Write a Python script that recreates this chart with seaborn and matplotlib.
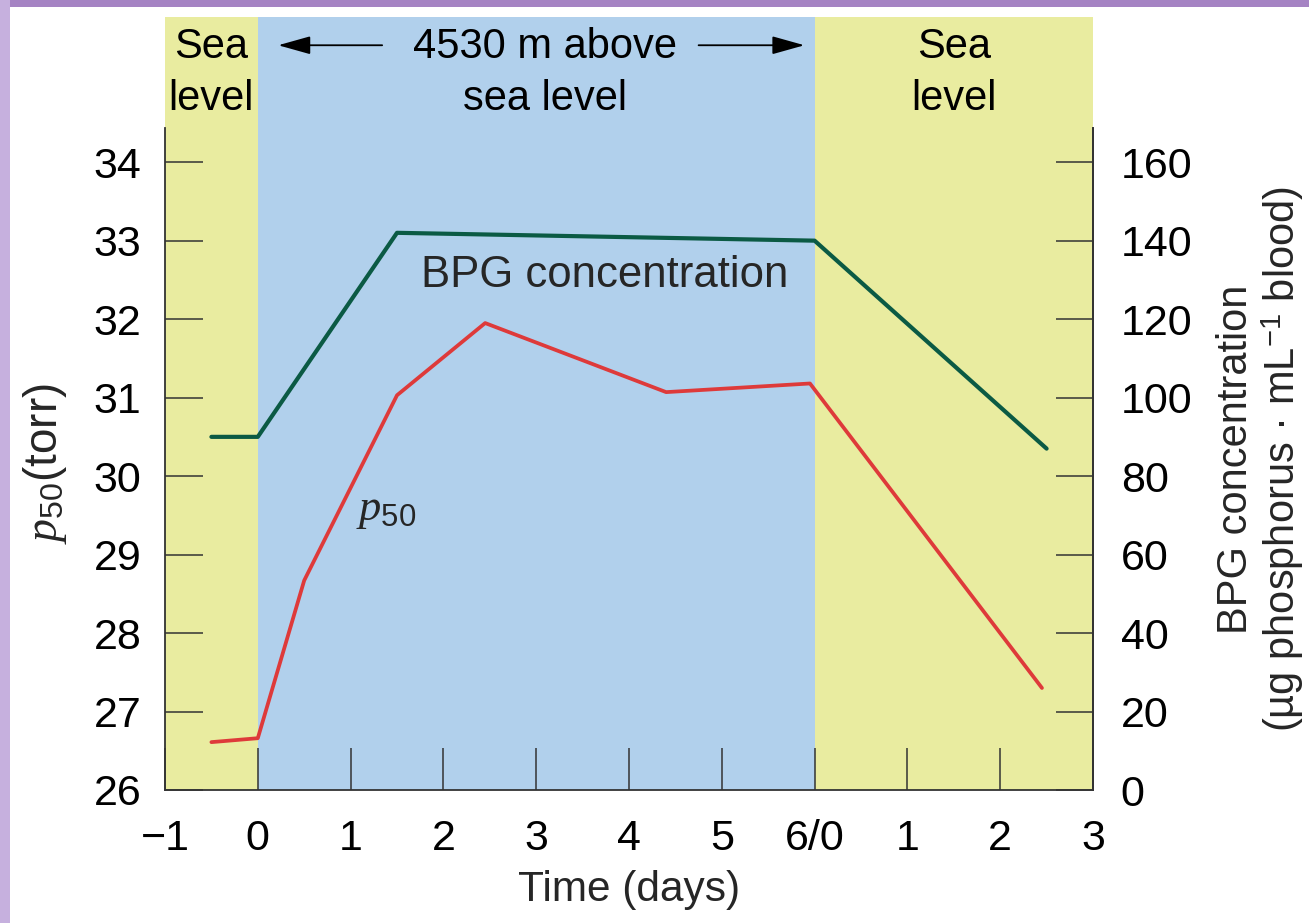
import matplotlib
matplotlib.use("Agg")
import matplotlib.pyplot as plt
from matplotlib.patches import Rectangle
import seaborn as sns

# ---- data ----
days_p50 = [-0.5, 0.0, 0.5, 1.5, 2.45, 4.4, 5.95, 8.45]
p50_torr = [26.61, 26.66, 28.67, 31.03, 31.95, 31.07, 31.18, 27.30]

days_bpg = [-0.5, 0.0, 1.5, 6.0, 8.5]
bpg_conc = [90, 90, 142, 140, 87]

x_ticks = [-1, 0, 1, 2, 3, 4, 5, 6, 7, 8, 9]
x_tick_labels = ["\u22121", "0", "1", "2", "3", "4", "5", "6/0", "1", "2", "3"]
p50_ticks = [26, 27, 28, 29, 30, 31, 32, 33, 34]
bpg_ticks = [0, 20, 40, 60, 80, 100, 120, 140, 160]

periods = [(-1, 0, "sea"), (0, 6, "high"), (6, 9, "sea")]

# ---- style ----
sns.set_theme(style="ticks")
plt.rcParams["font.family"] = ["Liberation Sans", "DejaVu Sans"]
plt.rcParams["mathtext.fontset"] = "custom"
plt.rcParams["mathtext.rm"] = "Liberation Sans"
plt.rcParams["mathtext.it"] = "Liberation Serif:italic"

SEA = "#e9eca0"
HIGH = "#b1d0ec"
GREEN = "#0b5a44"
RED = "#de3a3a"
AX = "#333333"

fig = plt.figure(figsize=(13.09, 9.23), dpi=100)
fig.patch.set_facecolor("white")
# slide frame strips along the top and left edges
fig.patches.append(Rectangle((0, 1 - 7 / 923), 1, 7 / 923, transform=fig.transFigure,
                             facecolor="#a583c3", edgecolor="none", zorder=0))
fig.patches.append(Rectangle((0, 0), 10 / 1309, 1, transform=fig.transFigure,
                             facecolor="#c6b0de", edgecolor="none", zorder=0))

left, right = 165 / 1309, 1093 / 1309
bottom, top = 1 - 790 / 923, 1 - 17 / 923
ax = fig.add_axes([left, bottom, right - left, top - bottom])

y_lo, y_top, spine_top = 26.0, 35.85, 34.43
ax.set_xlim(-1, 9)
ax.set_ylim(y_lo, y_top)

for x0, x1, kind in periods:
    ax.axvspan(x0, x1, color=SEA if kind == "sea" else HIGH, lw=0, zorder=0)

sns.lineplot(x=days_p50, y=p50_torr, ax=ax, color=RED, lw=2.7, zorder=3)

ax2 = ax.twinx()
ax2.set_ylim(0, (y_top - y_lo) * 20)
sns.lineplot(x=days_bpg, y=bpg_conc, ax=ax2, color=GREEN, lw=3.0, zorder=3)

# axes frame
for a in (ax, ax2):
    a.spines["top"].set_visible(False)
    for s in ("left", "right", "bottom"):
        a.spines[s].set_color(AX)
        a.spines[s].set_linewidth(1.3)
ax.spines["left"].set_bounds(y_lo, spine_top)
ax.spines["right"].set_bounds(y_lo, spine_top)
ax2.spines["left"].set_visible(False)
ax2.spines["bottom"].set_visible(False)
ax2.spines["right"].set_bounds(0, (spine_top - y_lo) * 20)

ax.set_xticks(x_ticks)
ax.set_xticklabels(x_tick_labels)
ax.set_yticks(p50_ticks)
ax.set_yticklabels([str(v) for v in p50_ticks])
ax2.set_yticks(bpg_ticks)
ax2.set_yticklabels([str(v) for v in bpg_ticks])

ax.tick_params(axis="x", direction="in", length=30, width=1.1, color=AX,
               labelsize=31, pad=21, labelcolor="black")
ax.tick_params(axis="y", direction="in", length=27, width=1.1, color=AX,
               labelsize=31, pad=17, labelcolor="black")
ax2.tick_params(axis="y", direction="in", length=27, width=1.1, color=AX,
                labelsize=31, pad=20, labelcolor="black")

ax.set_xlabel("Time (days)", fontsize=30.5, va="top")
ax.xaxis.set_label_coords(0.5, -0.103)
ax.set_ylabel(r"$p_{50}$(torr)", fontsize=33, va="center")
ax.yaxis.set_label_coords(-0.129, 0.422)
ax2.set_ylabel("BPG concentration\n(\u00b5g phosphorus \u00b7 mL$^{-1}$ blood)",
               fontsize=30, va="center", rotation=90, linespacing=1.12)
ax2.yaxis.set_label_coords(1.181, 0.428)

# period captions above the frame
hdr = dict(fontsize=30, ha="center", va="baseline", color="black", zorder=5)
ax.text(-0.5, 35.33, "Sea", **hdr)
ax.text(-0.5, 34.66, "level", **hdr)
ax.text(7.5, 35.33, "Sea", **hdr)
ax.text(7.5, 34.66, "level", **hdr)
ax.text(3.1, 35.33, "4530 m above", **hdr)
ax.text(3.1, 34.66, "sea level", **hdr)
arrow = dict(arrowstyle="-|>,head_length=1.0,head_width=0.28", color="black",
             lw=1.3, mutation_scale=20, shrinkA=0, shrinkB=0)
ax.annotate("", xy=(0.22, 35.49), xytext=(1.34, 35.49), arrowprops=arrow)
ax.annotate("", xy=(5.89, 35.49), xytext=(4.75, 35.49), arrowprops=arrow)

# series labels
ax.text(3.74, 32.41, "BPG concentration", fontsize=31.5, ha="center",
        va="baseline", zorder=5)
ax.text(1.38, 29.44, r"$p_{50}$", fontsize=32, ha="center", va="baseline",
        zorder=5)

fig.savefig("out.png", dpi=100, facecolor=fig.get_facecolor())
